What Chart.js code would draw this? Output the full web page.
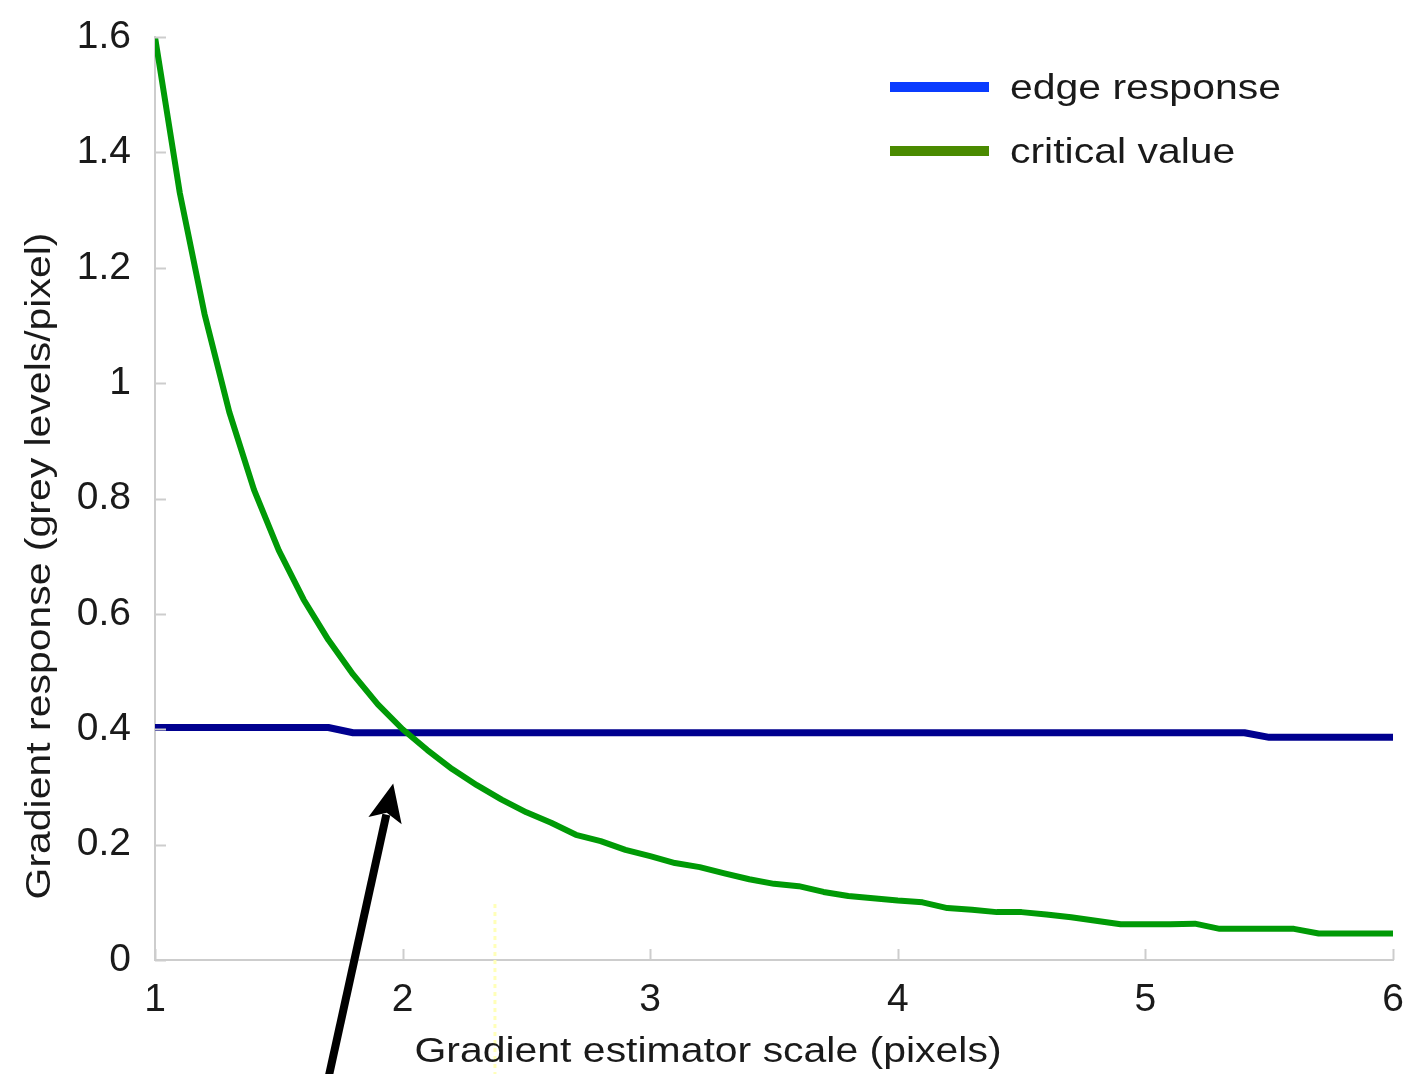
<!DOCTYPE html>
<html>
<head>
  <meta charset="UTF-8">
  <title>Gradient response vs estimator scale</title>
  <script src="https://cdn.jsdelivr.net/npm/chart.js@4/dist/chart.umd.min.js"></script>
  <style>
    body { margin: 0; background: #fff; }
    #wrap { width: 1405px; height: 1074px; position: relative; }
  </style>
</head>
<body>
<div id="wrap"><canvas id="myChart"></canvas></div>

<script>
  // x positions (pixels of estimator scale)
  var scales = [1.0, 1.1, 1.2, 1.3, 1.4, 1.5, 1.6, 1.7, 1.8, 1.9,
                2.0, 2.1, 2.2, 2.3, 2.4, 2.5, 2.6, 2.7, 2.8, 2.9,
                3.0, 3.1, 3.2, 3.3, 3.4, 3.5, 3.6, 3.7, 3.8, 3.9,
                4.0, 4.1, 4.2, 4.3, 4.4, 4.5, 4.6, 4.7, 4.8, 4.9,
                5.0, 5.1, 5.2, 5.3, 5.4, 5.5, 5.6, 5.7, 5.8, 5.9, 6.0];

  var edgeResponse = [0.403, 0.403, 0.403, 0.403, 0.403, 0.403, 0.403, 0.403, 0.394, 0.394,
                      0.394, 0.394, 0.394, 0.394, 0.394, 0.394, 0.394, 0.394, 0.394, 0.394,
                      0.394, 0.394, 0.394, 0.394, 0.394, 0.394, 0.394, 0.394, 0.394, 0.394,
                      0.394, 0.394, 0.394, 0.394, 0.394, 0.394, 0.394, 0.394, 0.394, 0.394,
                      0.394, 0.394, 0.394, 0.394, 0.394, 0.386, 0.386, 0.386, 0.386, 0.386, 0.386];

  var criticalValue = [1.60, 1.33, 1.12, 0.95, 0.815, 0.71, 0.625, 0.555, 0.495, 0.443,
                       0.400, 0.364, 0.331, 0.303, 0.278, 0.256, 0.238, 0.217, 0.206, 0.191,
                       0.180, 0.168, 0.161, 0.150, 0.140, 0.132, 0.128, 0.118, 0.111, 0.107,
                       0.103, 0.100, 0.090, 0.087, 0.083, 0.083, 0.079, 0.074, 0.068, 0.062,
                       0.062, 0.062, 0.063, 0.054, 0.054, 0.054, 0.054, 0.046, 0.046, 0.046, 0.046];

  var xTicks = [1, 2, 3, 4, 5, 6];
  var yTicks = [0, 0.2, 0.4, 0.6, 0.8, 1, 1.2, 1.4, 1.6];

  var seriesNames = ["edge response", "critical value"];
  var xTitle = "Gradient estimator scale (pixels)";
  var yTitle = "Gradient response (grey levels/pixel)";

  // arrow pointing at the crossing: [tailX, tailY, tipX, tipY] in data units
  var arrow = [1.695, -0.215, 1.962, 0.306];
  // faint dotted mark below the axis: [x, yTop, yBottom]
  var faintMark = [2.373, 0.097, -0.2];

  var FONT = "'Liberation Sans', Arial, Helvetica, sans-serif";
  var STRETCH = 1.17;   // the original lettering runs wide

  function toPoints(ys) {
    var pts = [];
    for (var i = 0; i < scales.length; i++) pts.push({ x: scales[i], y: ys[i] });
    return pts;
  }

  function stretchedText(ctx, text, x, y, rot, size) {
    ctx.save();
    ctx.translate(x, y);
    if (rot) ctx.rotate(rot);
    ctx.scale(STRETCH, 1);
    ctx.font = size + "px " + FONT;
    ctx.fillText(text, 0, 0);
    ctx.restore();
  }

  var decorations = {
    id: "decorations",
    afterDraw: function(chart) {
      var ctx = chart.ctx;
      var xs = chart.scales.x, ys = chart.scales.y;
      var area = chart.chartArea;

      ctx.save();
      // inward tick marks
      ctx.strokeStyle = "#cdcdcd";
      ctx.lineWidth = 2;
      xTicks.forEach(function(v) {
        var px = Math.round(xs.getPixelForValue(v)) + 0.5;
        ctx.beginPath();
        ctx.moveTo(px, area.bottom);
        ctx.lineTo(px, area.bottom - 11);
        ctx.stroke();
      });
      yTicks.forEach(function(v) {
        var py = Math.round(ys.getPixelForValue(v)) + 0.5;
        ctx.beginPath();
        ctx.moveTo(area.left, py);
        ctx.lineTo(area.left + 11, py);
        ctx.stroke();
      });

      // faint yellow dotted line
      ctx.strokeStyle = "#ffffb8";
      ctx.lineWidth = 3;
      ctx.setLineDash([4, 4]);
      ctx.beginPath();
      ctx.moveTo(xs.getPixelForValue(faintMark[0]), ys.getPixelForValue(faintMark[1]));
      ctx.lineTo(xs.getPixelForValue(faintMark[0]), ys.getPixelForValue(faintMark[2]));
      ctx.stroke();
      ctx.setLineDash([]);

      // axis titles
      ctx.fillStyle = "#1a1a1a";
      ctx.textAlign = "center";
      ctx.textBaseline = "middle";
      stretchedText(ctx, xTitle, 708, 1052, 0, 35);
      stretchedText(ctx, yTitle, 40, 566, -Math.PI / 2, 35);

      // legend
      var legendColors = ["#0a3cff", "#4a8a00"];
      var rows = [87, 151];
      ctx.textAlign = "left";
      ctx.textBaseline = "alphabetic";
      for (var i = 0; i < seriesNames.length; i++) {
        ctx.fillStyle = legendColors[i];
        ctx.fillRect(890, rows[i] - 5, 99, 10);
        ctx.fillStyle = "#1a1a1a";
        stretchedText(ctx, seriesNames[i], 1010, rows[i] + 12, 0, 35);
      }

      // arrow
      var x1 = xs.getPixelForValue(arrow[0]), y1 = ys.getPixelForValue(arrow[1]);
      var x2 = xs.getPixelForValue(arrow[2]), y2 = ys.getPixelForValue(arrow[3]);
      var ang = Math.atan2(y2 - y1, x2 - x1);
      var headLen = 38, headW = 17;
      var bx = x2 - headLen * Math.cos(ang), by = y2 - headLen * Math.sin(ang);
      ctx.strokeStyle = "#000";
      ctx.lineWidth = 8;
      ctx.beginPath();
      ctx.moveTo(x1, y1);
      ctx.lineTo(bx + 6 * Math.cos(ang), by + 6 * Math.sin(ang));
      ctx.stroke();
      ctx.fillStyle = "#000";
      ctx.beginPath();
      ctx.moveTo(x2, y2);
      ctx.lineTo(bx + headW * Math.sin(ang), by - headW * Math.cos(ang));
      ctx.lineTo(bx + 8 * Math.cos(ang), by + 8 * Math.sin(ang));
      ctx.lineTo(bx - headW * Math.sin(ang), by + headW * Math.cos(ang));
      ctx.closePath();
      ctx.fill();
      ctx.restore();
    }
  };

  new Chart(document.getElementById("myChart"), {
    type: "line",
    data: {
      datasets: [{
        label: seriesNames[0],
        data: toPoints(edgeResponse),
        borderColor: "#00008f",
        borderWidth: 7,
        order: 1
      }, {
        label: seriesNames[1],
        data: toPoints(criticalValue),
        borderColor: "#009a06",
        borderWidth: 6,
        order: 0
      }]
    },
    options: {
      responsive: true,
      maintainAspectRatio: false,
      animation: false,
      layout: { padding: { left: 0, top: 37, right: 12, bottom: 0 } },
      elements: { point: { radius: 0 }, line: { tension: 0, borderCapStyle: "butt", borderJoinStyle: "round" } },
      plugins: { legend: { display: false }, tooltip: { enabled: false } },
      scales: {
        x: {
          type: "linear",
          min: 1, max: 6,
          afterFit: function(s) { s.height = 114; s.paddingLeft = 0; s.paddingRight = 0; },
          afterBuildTicks: function(s) { s.ticks = xTicks.map(function(v) { return { value: v }; }); },
          grid: { display: true, drawOnChartArea: false, drawTicks: false },
          border: { display: true, color: "#cdcdcd", width: 2 },
          ticks: { padding: 17, color: "#1a1a1a", font: { family: FONT, size: 39 },
                   callback: function(v) { return String(v); } }
        },
        y: {
          min: 0, max: 1.6,
          afterFit: function(s) { s.width = 155; s.paddingTop = 0; s.paddingBottom = 0; },
          afterBuildTicks: function(s) { s.ticks = yTicks.map(function(v) { return { value: v }; }); },
          grid: { display: true, drawOnChartArea: false, drawTicks: false },
          border: { display: true, color: "#cdcdcd", width: 2 },
          ticks: { padding: 24, color: "#1a1a1a", font: { family: FONT, size: 39 },
                   callback: function(v) { return String(v); } }
        }
      }
    },
    plugins: [decorations]
  });
</script>
</body>
</html>
